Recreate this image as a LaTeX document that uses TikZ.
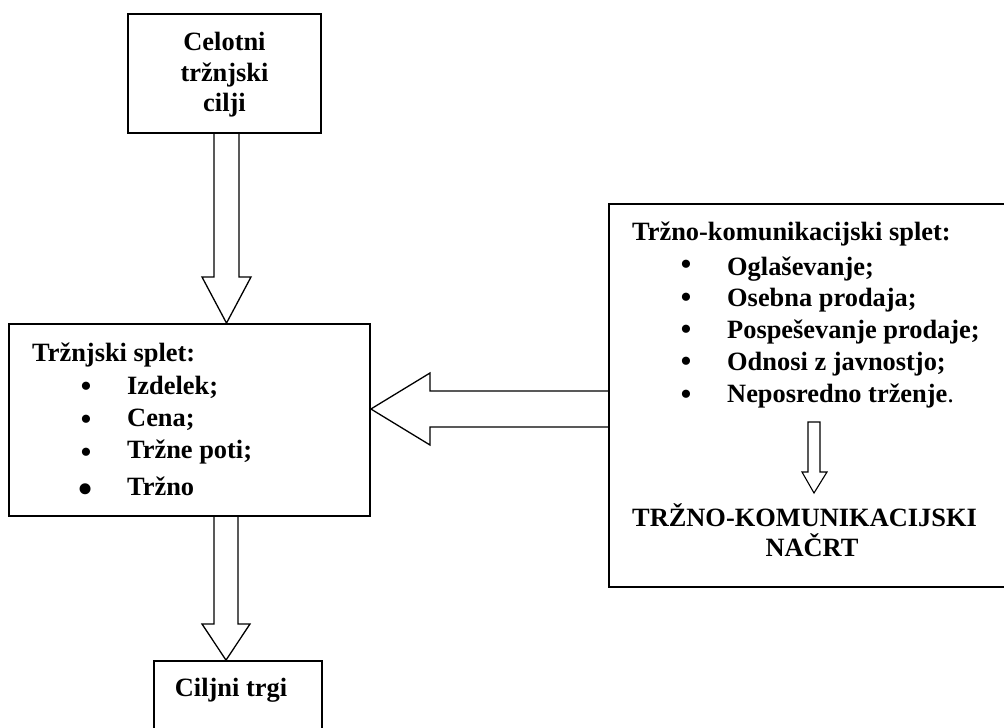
\documentclass[tikz,border=0pt]{standalone}
\usepackage{fontspec}
\setmainfont{Liberation Serif}
\begin{document}
\begin{tikzpicture}[x=1pt,y=-1pt,
  box/.style={draw, line width=1.8pt, inner sep=0pt},
  txt/.style={font=\fontsize{26.4}{30.5}\selectfont\bfseries, inner sep=0pt},
  bul/.style={font=\fontsize{34}{38}\selectfont, inner sep=0pt, anchor=base},
  harrow/.style={draw, line width=1.3pt, line join=miter}]
\useasboundingbox (0,0) rectangle (1004,728);
% boxes
\node[box, minimum width=193pt, minimum height=119pt] (goal) at (224.5,73.5) {};
\node[box, minimum width=361pt, minimum height=192pt] (mktmix) at (189.5,420) {};
\node[box, minimum width=421pt, minimum height=383pt] (commix) at (819.5,395.5) {};
\node[box, minimum width=168pt, minimum height=79pt] (target) at (238,700.5) {};
% texts
\node[txt, align=center] (goaltxt) at (224.5,75) {Celotni\\tržnjski\\cilji};
\node[txt, anchor=base west] (mh) at (32,361) {Tržnjski splet:};
\node[bul] (mb1) at (86,397.5) {\smash{\textbullet}};
\node[txt, anchor=base west] (mi1) at (127,394) {Izdelek;};
\node[bul] (mb2) at (86,430.5) {\smash{\textbullet}};
\node[txt, anchor=base west] (mi2) at (127,426.7) {Cena;};
\node[bul] (mb3) at (86,463.5) {\smash{\textbullet}};
\node[txt, anchor=base west] (mi3) at (127,458.5) {Tržne poti;};
\node[bul, font=\fontsize{46}{50}\selectfont] (mb4) at (86,504.6) {\smash{\textbullet}};
\node[txt, anchor=base west] (mi4) at (127,495.7) {Tržno};
\node[txt, anchor=base west] (ch) at (632,240) {Tržno-komunikacijski splet:};
\node[bul] (cb1) at (686,275.5) {\smash{\textbullet}};
\node[txt, anchor=base west] (ci1) at (727,275) {Oglaševanje;};
\node[bul] (cb2) at (686,308.5) {\smash{\textbullet}};
\node[txt, anchor=base west] (ci2) at (727,306.7) {Osebna prodaja;};
\node[bul] (cb3) at (686,340.5) {\smash{\textbullet}};
\node[txt, anchor=base west] (ci3) at (727,338.5) {Pospeševanje prodaje;};
\node[bul] (cb4) at (686,372.5) {\smash{\textbullet}};
\node[txt, anchor=base west] (ci4) at (727,370.5) {Odnosi z javnostjo;};
\node[bul] (cb5) at (686,405.5) {\smash{\textbullet}};
\node[txt, anchor=base west] (ci5) at (727,402.7) {Neposredno trženje\mdseries.};
\node[txt, anchor=base] (plan1) at (804.5,526.7) {TRŽNO-KOMUNIKACIJSKI};
\node[txt, anchor=base] (plan2) at (812,556.7) {NAČRT};
\node[txt, anchor=base] (targettxt) at (231,696.7) {Ciljni trgi};
% hollow arrows
\draw[harrow] (214,0 |- goal.south) -- (214,277) -- (202,277) -- (226.5,0 |- mktmix.north)
  -- (251,277) -- (239,277) -- (239,0 |- goal.south);
\draw[harrow] (commix.west |- 0,391) -- (430,391) -- (430,373) -- (mktmix.east |- 0,409)
  -- (430,445) -- (430,427) -- (commix.west |- 0,427);
\draw[harrow] (214,0 |- mktmix.south) -- (214,624) -- (202,624) -- (226,0 |- target.north)
  -- (250,624) -- (238,624) -- (238,0 |- mktmix.south);
\draw[harrow, line width=1.1pt] (808,422) -- (808,472) -- (802,472) -- (814,493) -- (827,472)
  -- (820,472) -- (820,422) -- cycle;
\end{tikzpicture}
\end{document}
